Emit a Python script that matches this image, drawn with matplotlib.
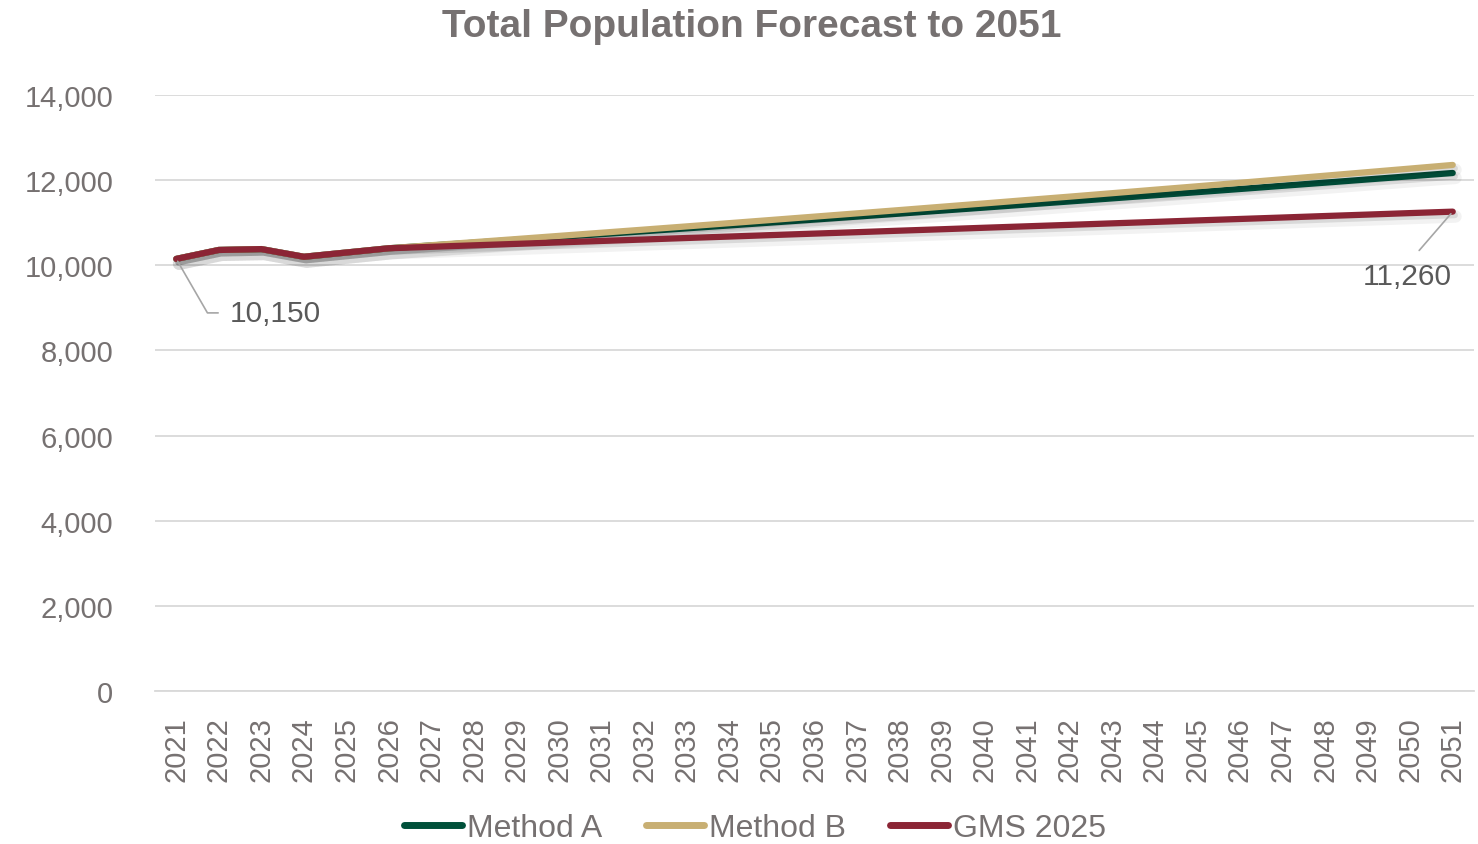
import matplotlib
matplotlib.use("Agg")
import matplotlib.pyplot as plt
import matplotlib.patheffects as pe
from matplotlib.lines import Line2D

years = list(range(2021, 2052))

method_a = [10150, 10360, 10380, 10200, 10300, 10400,
            10466, 10531, 10598, 10665, 10732, 10800, 10868, 10936, 11005,
            11074, 11144, 11214, 11285, 11356, 11428, 11500, 11572, 11645,
            11718, 11792, 11867, 11941, 12017, 12092, 12168]

method_b = [10150, 10360, 10380, 10200, 10300, 10400,
            10472, 10544, 10617, 10691, 10765, 10839, 10914, 10990, 11066,
            11143, 11220, 11297, 11376, 11454, 11534, 11613, 11694, 11775,
            11856, 11938, 12021, 12104, 12188, 12272, 12357]

gms_2025 = [10150, 10360, 10380, 10200, 10300, 10400,
            10434, 10469, 10503, 10538, 10572, 10606, 10641, 10675, 10710,
            10744, 10778, 10813, 10847, 10882, 10916, 10950, 10985, 11019,
            11054, 11088, 11122, 11157, 11191, 11226, 11260]

series_names = ["Method A", "Method B", "GMS 2025"]
colors = ["#00503A", "#C8AF73", "#8B2535"]
y_ticks = [0, 2000, 4000, 6000, 8000, 10000, 12000, 14000]
title = "Total Population Forecast to 2051"

text_color = "#767171"
grid_color = "#D9D9D9"
plt.rcParams["font.family"] = ["Liberation Sans", "DejaVu Sans"]

fig = plt.figure(figsize=(14.78, 8.45), dpi=100)
ax = fig.add_axes([155 / 1478, 1 - 692 / 845, (1474 - 155) / 1478, (692 - 96) / 845])

# soft drop shadow under each series
shadow = [pe.SimpleLineShadow(offset=(2.0, -3.5), shadow_color="black", alpha=0.05, linewidth=9),
          pe.SimpleLineShadow(offset=(1.5, -2.5), shadow_color="black", alpha=0.10),
          pe.Normal()]

for vals, name, c in zip([method_a, method_b, gms_2025], series_names, colors):
    ax.plot(years, vals, color=c, lw=4.5, solid_capstyle="round",
            solid_joinstyle="round", path_effects=shadow, zorder=3)

ax.set_xlim(years[0] - 0.5, years[-1] + 0.5)
ax.set_ylim(0, 14000)
ax.set_yticks(y_ticks)
ax.set_yticklabels([f"{v:,}" for v in y_ticks])
ax.set_xticks(years)
ax.set_xticklabels([str(y) for y in years], rotation=90)
ax.tick_params(axis="y", length=0, pad=30, labelsize=21, labelcolor=text_color)
ax.tick_params(axis="x", length=0, pad=18, labelsize=21, labelcolor=text_color)
ax.grid(axis="y", color=grid_color, lw=1.3)
ax.set_axisbelow(True)
for s in ["top", "right", "left"]:
    ax.spines[s].set_visible(False)
ax.spines["bottom"].set_color(grid_color)
ax.spines["bottom"].set_linewidth(1.3)

# value callouts for the first and last GMS points
lead = dict(arrowstyle="-", color="#A6A6A6", lw=1.2)
ax.annotate(f"{gms_2025[0]:,}", xy=(years[0], gms_2025[0]), xytext=(53, -54),
            textcoords="offset pixels", ha="left", va="center", fontsize=21.5,
            color="#595959",
            arrowprops=dict(lead, connectionstyle="angle,angleA=0,angleB=120,rad=0",
                            relpos=(0, 0.5), shrinkA=6, shrinkB=2))
ax.annotate(f"{gms_2025[-1]:,}", xy=(years[-1], gms_2025[-1]), xytext=(-45, -64),
            textcoords="offset pixels", ha="center", va="center", fontsize=21.5,
            color="#595959",
            arrowprops=dict(lead, relpos=(0.52, 1.0), shrinkA=8, shrinkB=2))

fig.text(752 / 1478, 1 - 27 / 845, title, ha="center", va="center",
         fontsize=28, fontweight="bold", color=text_color)

handles = [Line2D([], [], color=c, lw=5, solid_capstyle="round") for c in colors]
fig.legend(handles, series_names, loc="center", bbox_to_anchor=(755 / 1478, 1 - 829 / 845),
           ncol=3, frameon=False, fontsize=23, labelcolor=text_color,
           handlelength=1.8, handletextpad=0.15, columnspacing=1.4)

fig.savefig("out.png", dpi=100)
